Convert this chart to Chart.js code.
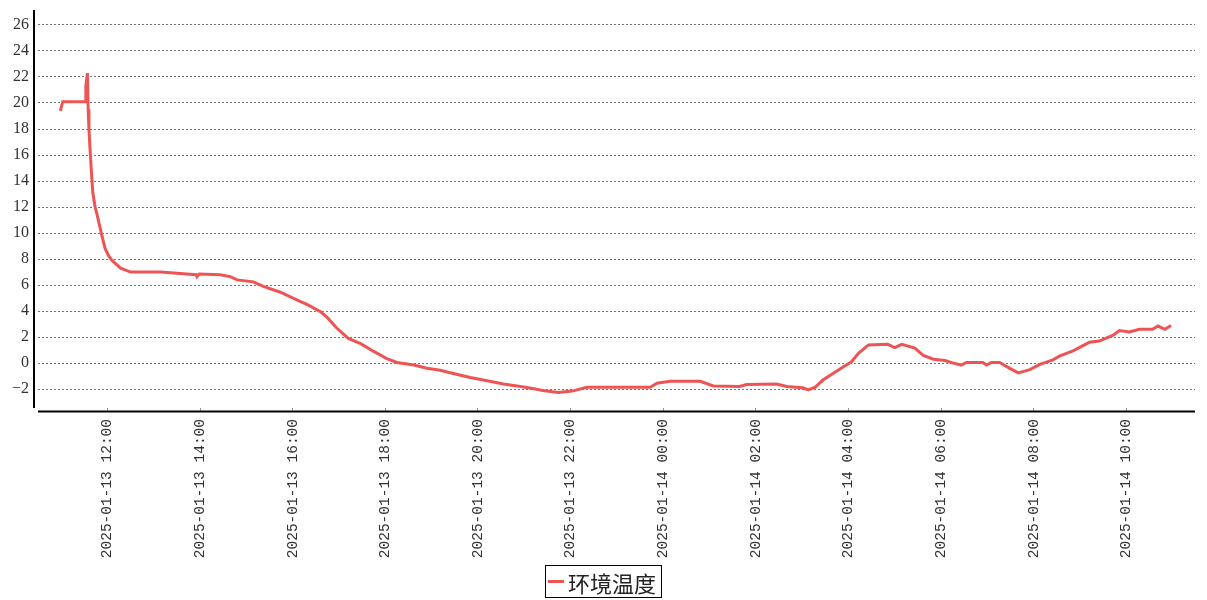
<!DOCTYPE html>
<html>
<head>
<meta charset="utf-8">
<script src="https://cdn.jsdelivr.net/npm/chart.js@4.4.1/dist/chart.umd.min.js"></script>
<style>
    html, body { margin: 0; padding: 0; background: #fff; }
    #wrap { position: relative; width: 1207px; height: 600px; }
    #chart { display: block; }
    #legend {
        position: absolute; left: 545px; top: 565px; height: 31px;
        border: 1px solid #000; padding: 0 5px 0 2px;
        display: flex; align-items: center;
        font-family: "Noto Sans CJK SC", sans-serif; font-size: 22px; color: #222;
    }
    #legend .swatch { width: 16px; height: 3px; background: rgb(238, 84, 84); margin-right: 4px; }
</style>
</head>
<body>
<div id="wrap">
    <canvas id="chart" width="1207" height="600"></canvas>
    <div id="legend"><span class="swatch"></span><span>环境温度</span></div>
</div>
<script>
// readings, time as 'MM-DD HH:MM'
const times = [
    '01-13 10:59', '01-13 11:02', '01-13 11:31', '01-13 11:32', '01-13 11:34', '01-13 11:35',
    '01-13 11:36', '01-13 11:37', '01-13 11:39', '01-13 11:41', '01-13 11:44', '01-13 11:47',
    '01-13 11:52', '01-13 11:57', '01-13 12:02',
    '01-13 12:06', '01-13 12:17', '01-13 12:30', '01-13 13:09', '01-13 13:34', '01-13 13:55',
    '01-13 13:56', '01-13 13:59', '01-13 14:26', '01-13 14:39', '01-13 14:48', '01-13 15:09',
    '01-13 15:22', '01-13 15:44', '01-13 16:06', '01-13 16:19', '01-13 16:36', '01-13 16:44',
    '01-13 16:57', '01-13 17:12', '01-13 17:28', '01-13 17:45', '01-13 18:02', '01-13 18:15',
    '01-13 18:37', '01-13 18:54', '01-13 19:11', '01-13 19:28', '01-13 19:50', '01-13 20:12',
    '01-13 20:33', '01-13 20:55', '01-13 21:11', '01-13 21:24', '01-13 21:44', '01-13 22:02',
    '01-13 22:21', '01-13 23:43', '01-13 23:52', '01-14 00:09', '01-14 00:48', '01-14 01:05',
    '01-14 01:39', '01-14 01:48', '01-14 02:27', '01-14 02:40', '01-14 03:01', '01-14 03:08',
    '01-14 03:17', '01-14 03:27', '01-14 03:40', '01-14 03:53', '01-14 04:04', '01-14 04:13',
    '01-14 04:26', '01-14 04:51', '01-14 05:00', '01-14 05:09', '01-14 05:26', '01-14 05:37',
    '01-14 05:50', '01-14 06:05', '01-14 06:16', '01-14 06:26', '01-14 06:33', '01-14 06:54',
    '01-14 06:59', '01-14 07:05', '01-14 07:16', '01-14 07:29', '01-14 07:40', '01-14 07:55',
    '01-14 08:08', '01-14 08:25', '01-14 08:34', '01-14 08:51', '01-14 09:12', '01-14 09:25',
    '01-14 09:43', '01-14 09:51', '01-14 10:04', '01-14 10:17', '01-14 10:34', '01-14 10:41',
    '01-14 10:50', '01-14 10:58'
];
const temps = [
    19.4, 20.1, 20.1, 21.3, 22.3, 19.5,
    18.0, 16.9, 14.9, 13.1, 12.0, 11.3,
    10.0, 8.8, 8.2,
    7.9, 7.3, 7.0, 7.0, 6.9, 6.8,
    6.65, 6.85, 6.8, 6.65, 6.4, 6.25,
    5.9, 5.45, 4.85, 4.5, 3.95, 3.55,
    2.7, 1.9, 1.5, 0.9, 0.35, 0.05,
    -0.15, -0.4, -0.55, -0.8, -1.1, -1.35,
    -1.6, -1.8, -1.95, -2.1, -2.25, -2.15,
    -1.85, -1.85, -1.55, -1.4, -1.4, -1.75,
    -1.8, -1.65, -1.6, -1.8, -1.9, -2.05,
    -1.85, -1.3, -0.8, -0.3, 0.1, 0.75,
    1.4, 1.45, 1.2, 1.45, 1.15, 0.6,
    0.3, 0.2, 0.0, -0.15, 0.05, 0.05,
    -0.15, 0.05, 0.05, -0.4, -0.75, -0.5,
    -0.1, 0.25, 0.55, 0.95, 1.6, 1.7,
    2.15, 2.5, 2.4, 2.6, 2.6, 2.85,
    2.6, 2.9
];
const xTicks = ['12:00', '14:00', '16:00', '18:00', '20:00', '22:00',
                '24:00', '26:00', '28:00', '30:00', '32:00', '34:00'];
const yTicks = [-2, 0, 2, 4, 6, 8, 10, 12, 14, 16, 18, 20, 22, 24, 26];

// minutes since 2025-01-13 00:00
function toMinutes(s) {
    const [md, hm] = s.split(' ');
    const day = parseInt(md.split('-')[1], 10) - 13;
    const [h, m] = hm.split(':').map(Number);
    return day * 1440 + h * 60 + m;
}
function hhmm(v) {
    return String(v).padStart(2, '0');
}
function fmtTick(v) {
    const day = 13 + Math.floor(v / 1440);
    const rest = v % 1440;
    return `2025-01-${day} ${hhmm(Math.floor(rest / 60))}:${hhmm(rest % 60)}`;
}

const points = times.map((t, i) => ({ x: toMinutes(t), y: temps[i] }));
const xTickValues = xTicks.map(t => {
    const [h, m] = t.split(':').map(Number);
    return h * 60 + m;
});

const axisLines = {
    id: 'axisLines',
    afterDraw(chart) {
        const { ctx, chartArea } = chart;
        ctx.save();
        ctx.strokeStyle = '#000';
        ctx.lineWidth = 2;
        ctx.beginPath();
        ctx.moveTo(chartArea.left - 4, chartArea.top);
        ctx.lineTo(chartArea.left - 4, chartArea.bottom);
        ctx.moveTo(chartArea.left, chartArea.bottom + 3.5);
        ctx.lineTo(chartArea.right, chartArea.bottom + 3.5);
        ctx.stroke();
        ctx.restore();
    }
};

const ctx = document.getElementById('chart').getContext('2d');
const chart = new Chart(ctx, {
    type: 'line',
    data: {
        datasets: [{
            label: '环境温度',
            data: points,
            borderColor: 'rgb(238, 84, 84)',
            borderWidth: 3,
            pointRadius: 0,
            tension: 0,
            fill: false
        }]
    },
    options: {
        responsive: false,
        animation: false,
        layout: { padding: { top: 10, right: 12, left: 0, bottom: 0 } },
        plugins: {
            legend: { display: false },
            tooltip: { enabled: false }
        },
        scales: {
            x: {
                type: 'linear',
                min: 630,
                max: 2129,
                afterBuildTicks: scale => {
                    scale.ticks = xTickValues.map(v => ({ value: v }));
                },
                afterFit: scale => {
                    scale.height = 192;
                    scale.paddingLeft = 0;
                    scale.paddingRight = 0;
                },
                grid: { drawOnChartArea: false, drawTicks: true, tickLength: 4, color: '#999' },
                border: { display: false },
                ticks: {
                    minRotation: 90,
                    maxRotation: 90,
                    autoSkip: false,
                    padding: 7,
                    color: '#333',
                    font: { family: '"Liberation Mono", monospace', size: 14.5 },
                    callback: v => fmtTick(v)
                }
            },
            y: {
                min: -3.45,
                max: 27.15,
                afterBuildTicks: scale => {
                    scale.ticks = yTicks.map(v => ({ value: v }));
                },
                afterFit: scale => {
                    scale.width = 38;
                    scale.paddingTop = 0;
                    scale.paddingBottom = 0;
                },
                grid: { color: '#777', lineWidth: 1, drawTicks: false },
                border: { display: false, dash: [2, 2] },
                ticks: {
                    padding: 9,
                    color: '#333',
                    font: { family: '"Liberation Serif", serif', size: 16 },
                    callback: v => v < 0 ? '\u2212' + Math.abs(v) : String(v)
                }
            }
        }
    },
    plugins: [axisLines]
});
</script>
</body>
</html>
